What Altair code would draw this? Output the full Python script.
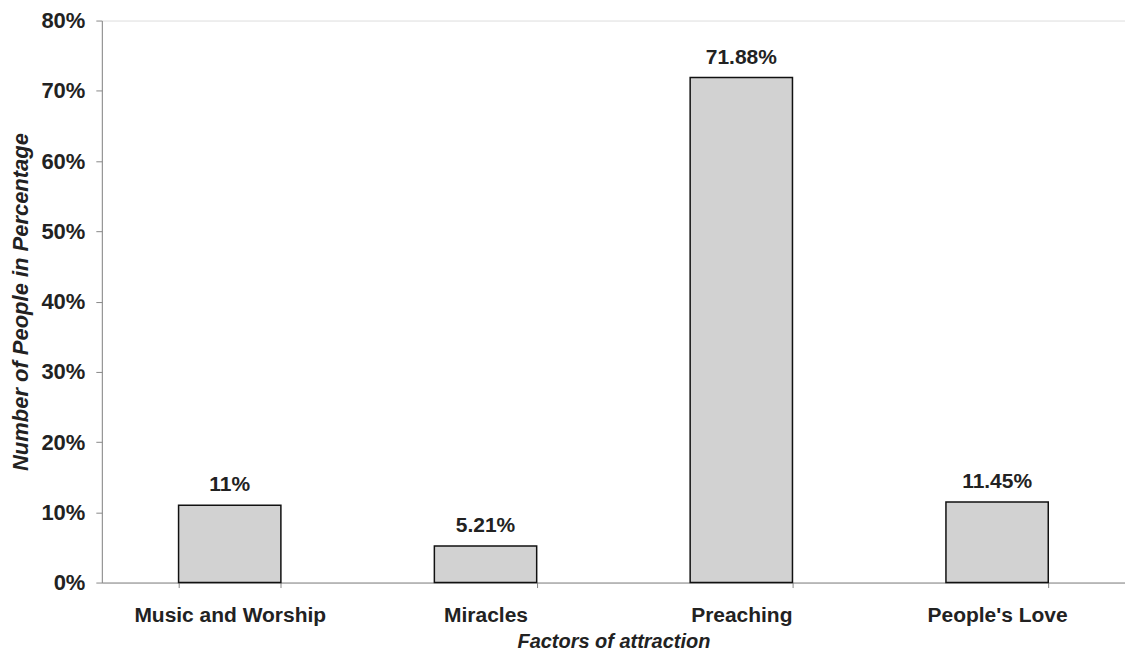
import altair as alt
import pandas as pd

categories = ["Music and Worship", "Miracles", "Preaching", "People's Love"]
values = [11.0, 5.21, 71.88, 11.45]
labels = ["11%", "5.21%", "71.88%", "11.45%"]

df = pd.DataFrame({"factor": categories, "value": values, "label": labels})

FONT = "Liberation Sans"

x = alt.X(
    "factor:N",
    sort=categories,
    title="Factors of attraction",
    scale=alt.Scale(paddingInner=0.6, paddingOuter=0.3),
    axis=alt.Axis(
        labelAngle=0,
        labelFont=FONT,
        labelFontSize=21,
        labelFontWeight="bold",
        labelColor="#222222",
        labelPadding=17,
        labelLimit=400,
        tickBand="extent",
        tickSize=5,
        tickColor="#888888",
        domainColor="#888888",
        titleFont=FONT,
        titleFontSize=20,
        titleFontWeight="bold",
        titleFontStyle="italic",
        titleColor="#222222",
        titlePadding=6,
    ),
)

y = alt.Y(
    "value:Q",
    title="Number of People in Percentage",
    scale=alt.Scale(domain=[0, 80], nice=False),
    axis=alt.Axis(
        values=[0, 10, 20, 30, 40, 50, 60, 70, 80],
        labelExpr="datum.value + '%'",
        labelFont=FONT,
        labelFontSize=22,
        labelFontWeight="bold",
        labelColor="#222222",
        labelPadding=11,
        tickSize=6,
        tickColor="#888888",
        domainColor="#888888",
        grid=False,
        titleFont=FONT,
        titleFontSize=22,
        titleFontWeight="bold",
        titleFontStyle="italic",
        titleColor="#222222",
        titlePadding=8,
    ),
)

bars = alt.Chart(df).mark_bar(
    fill="#d2d2d2", stroke="#111111", strokeWidth=1.5
).encode(x=x, y=y)

text = alt.Chart(df).mark_text(
    font=FONT, fontSize=21, fontWeight="bold", color="#222222",
    baseline="bottom", dy=-10
).encode(x=alt.X("factor:N", sort=categories), y="value:Q", text="label:N")

chart = (bars + text).properties(
    width=1025,
    height=563,
    autosize=alt.AutoSizeParams(type="none"),
    padding={"left": 94, "top": 12, "right": 0, "bottom": 76},
).configure_view(stroke=None).configure(background="white")

chart.save("out.html", embed_options={"renderer": "svg", "actions": False})
